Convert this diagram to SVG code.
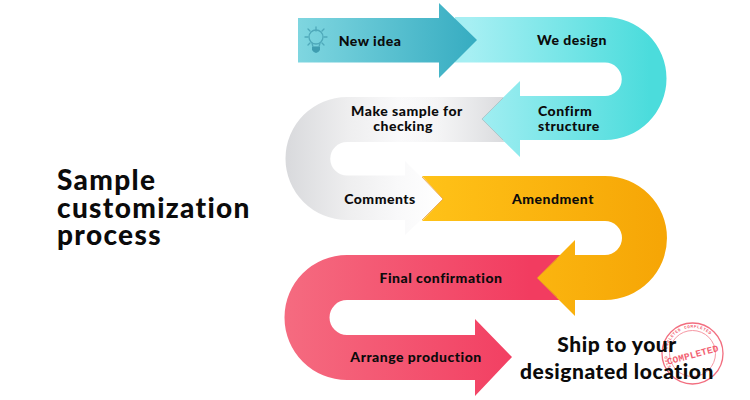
<svg xmlns="http://www.w3.org/2000/svg" width="750" height="400" viewBox="0 0 750 400">
<style>
.t{font-family:"Lato","Liberation Sans",sans-serif;font-weight:900;fill:#0b0b0b;text-anchor:middle}
.s{font-size:14px;letter-spacing:.5px}
.h{font-size:28px;letter-spacing:1.35px;text-anchor:start}
.st{font-family:"Liberation Mono",monospace;font-weight:700;fill:#f0384f}
.ray{stroke:#4fa9ba;stroke-width:1.3;fill:none;stroke-linecap:round}
</style>
<defs>
<linearGradient id="gFirst" gradientUnits="userSpaceOnUse" x1="298" y1="0" x2="477" y2="0"><stop offset="0" stop-color="#7fd6e0"/><stop offset="1" stop-color="#36acc1"/></linearGradient>
<linearGradient id="gTeal" gradientUnits="userSpaceOnUse" x1="470" y1="0" x2="650" y2="0"><stop offset="0" stop-color="#a6eff3"/><stop offset="1" stop-color="#4bdcdc"/></linearGradient>
<linearGradient id="gGray" gradientUnits="userSpaceOnUse" x1="285" y1="0" x2="443" y2="0"><stop offset="0" stop-color="#d8d9dc"/><stop offset=".4" stop-color="#eeeeef"/><stop offset=".72" stop-color="#f9f9fa"/><stop offset="1" stop-color="#ffffff"/></linearGradient>
<linearGradient id="gGrayTop" gradientUnits="userSpaceOnUse" x1="400" y1="0" x2="505" y2="0"><stop offset="0" stop-color="#e6e6e8" stop-opacity="0"/><stop offset="1" stop-color="#d9dadd"/></linearGradient>
<linearGradient id="gOrange" gradientUnits="userSpaceOnUse" x1="422" y1="0" x2="660" y2="0"><stop offset="0" stop-color="#ffc218"/><stop offset="1" stop-color="#f6a606"/></linearGradient>
<linearGradient id="gRed" gradientUnits="userSpaceOnUse" x1="285" y1="0" x2="530" y2="0"><stop offset="0" stop-color="#f56b80"/><stop offset="1" stop-color="#f23c60"/></linearGradient>
</defs>
<rect width="750" height="400" fill="#ffffff"/>

<g id="title"><text class="t h" x="57" y="190">Sample</text><text class="t h" x="57" y="218">customization</text><text class="t h" x="57" y="245">process</text></g>

<g id="step-final-production">
<path fill="url(#gRed)" d="M570 255H347A62.500 62.500 0 0 0 347 380H475V396L512 357L475 319V335H347A17.500 17.500 0 0 1 347 300H570Z"/>
<text class="t s" x="441" y="283">Final confirmation</text>
<text class="t s" x="416" y="362">Arrange production</text>
</g>

<g id="step-amendment">
<path fill="url(#gOrange)" d="M422 176H605A62 62 0 0 1 605 300H575V316L537 278L575 240V255H605A17 17 0 0 0 605 221H422L443 199Z"/>
<path d="M557 259L537 278L557 297" fill="none" stroke="#d9803a" stroke-width="1" opacity=".55"/>
<text class="t s" x="553" y="204">Amendment</text>
</g>

<g id="step-comments">
<path fill="url(#gGray)" d="M510 97H347A61.500 61.500 0 0 0 347 220H405V235L443 199L405 161V175.500H347A16.500 16.500 0 0 1 347 142H510Z"/>
<path fill="url(#gGrayTop)" d="M400 97H510V142H400Z"/>
<path d="M422 177L443 199L422 220" fill="none" stroke="#e3902a" stroke-width="1" opacity=".7"/>
<text class="t s" x="407" y="116">Make sample for</text>
<text class="t s" x="403" y="131">checking</text>
<text class="t s" x="380" y="204">Comments</text>
</g>

<g id="step-design">
<path fill="url(#gTeal)" d="M455 17H605A61.500 61.500 0 0 1 605 140H520V157L481.500 119L520 81V96H605A16.750 16.750 0 0 0 605 62.500H455Z"/>
<path d="M503 98L482 119L503 140" fill="none" stroke="#b9aeb0" stroke-width="1" opacity=".6"/>
<text class="t s" x="572" y="45">We design</text>
<text class="t s" x="538" y="116" style="text-anchor:start">Confirm</text>
<text class="t s" x="538" y="131" style="text-anchor:start">structure</text>
</g>

<g id="step-new-idea">
<path fill="url(#gFirst)" d="M298 18H439V3L477 40L439 78V62.500H298Z"/>
<circle cx="316" cy="37" r="7" fill="none" stroke="#4fa9ba" stroke-width="1.300"/>
<path d="M312 43L313 47H319L320 43" fill="none" stroke="#4fa9ba" stroke-width="1.300"/>
<path d="M312 47H320V50Q318 53 316 53Q314 53 312 50Z" fill="#3f9db0"/>
<path class="ray" d="M316 27V31M305 37H308M324 37H327M308 29L310 31M324 29L322 31M308 45L310 43M324 45L322 43"/>
<text class="t s" x="370" y="46">New idea</text>
</g>

<g id="stamp" opacity=".8">
<circle cx="692.500" cy="353.500" r="30.500" fill="none" stroke="#f04a60" stroke-width="1.300"/>
<circle cx="692.500" cy="353.500" r="23" fill="none" stroke="#f47f8e" stroke-width="1"/>
<path id="stampArc" d="M671 367A25.500 25.500 0 1 1 714 367" fill="none"/>
<text class="st" font-size="4.200" letter-spacing=".55"><textPath href="#stampArc">ETED COMPLETED COMPLETED</textPath></text>
<text class="st" font-size="9.500" x="692.500" y="358" text-anchor="middle" letter-spacing=".2" transform="rotate(-15 692.500 354)">COMPLETED</text>
</g>

<g id="step-ship">
<text class="t" font-size="21" letter-spacing=".55" x="617" y="352">Ship to your</text>
<text class="t" font-size="21" letter-spacing=".55" x="617" y="379">designated location</text>
</g>
</svg>
